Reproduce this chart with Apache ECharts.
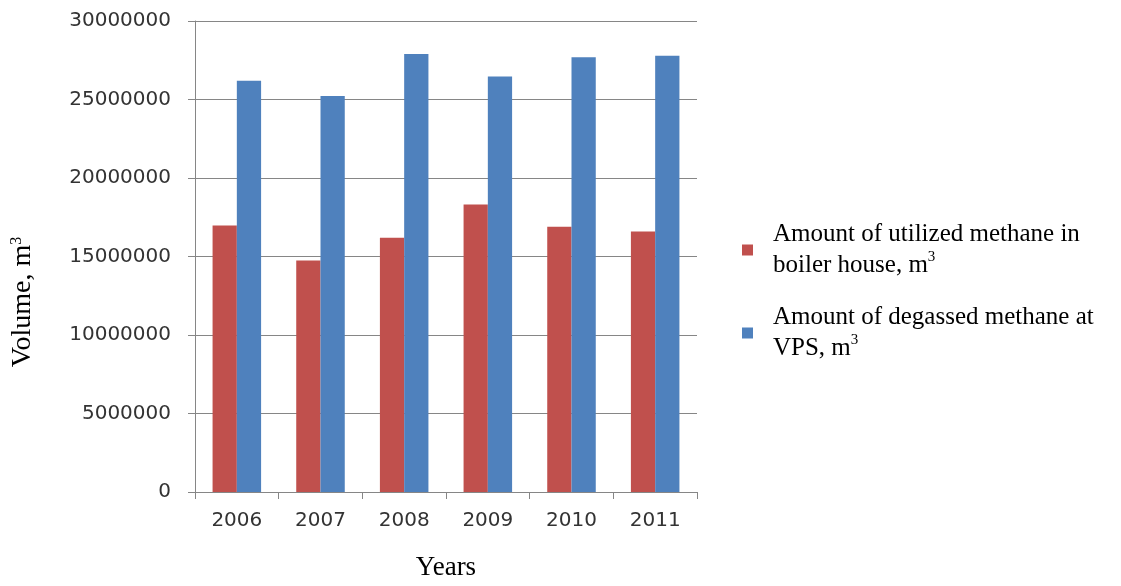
<!DOCTYPE html>
<html>
<head>
<meta charset="utf-8">
<script src="https://cdn.jsdelivr.net/npm/echarts@6/dist/echarts.min.js"></script>
<style>
  html, body { margin: 0; padding: 0; background: #ffffff; }
  #chart { width: 1121px; height: 586px; }
</style>
</head>
<body>
<div id="chart"></div>
<script>
// Methane volumes per year
const years = ['2006', '2007', '2008', '2009', '2010', '2011'];
const utilizedBoiler = [16970000, 14750000, 16190000, 18310000, 16890000, 16590000];
const degassedVPS = [26190000, 25230000, 27900000, 26460000, 27690000, 27780000];
const seriesNames = ['Amount of utilized methane in boiler house, m3', 'Amount of degassed methane at VPS, m3'];
const legendLines = {
  [seriesNames[0]]: ['Amount of utilized methane in', 'boiler house, m'],
  [seriesNames[1]]: ['Amount of degassed methane at', 'VPS, m']
};

const serif = '"Liberation Serif", "Times New Roman", serif';
const sans = '"DejaVu Sans", Verdana, sans-serif';
const axisGray = '#868686';

const chart = echarts.init(document.getElementById('chart'));
chart.setOption({
  animation: false,
  backgroundColor: '#ffffff',
  grid: { left: 195, right: 424, top: 21, bottom: 93, containLabel: false },
  legend: {
    orient: 'vertical',
    left: 737,
    top: 217,
    itemWidth: 11,
    itemHeight: 11,
    itemGap: 27,
    icon: 'rect',
    selectedMode: false,
    data: seriesNames,
    formatter: function (name) {
      const l = legendLines[name];
      return '{t|' + l[0] + '}\n{t|' + l[1] + '}{s|3}';
    },
    textStyle: {
      rich: {
        t: { fontFamily: serif, fontSize: 25, lineHeight: 31, color: '#000000', padding: [0, 0, 0, 15] },
        s: { fontFamily: serif, fontSize: 15, lineHeight: 31, color: '#000000', verticalAlign: 'top' }
      }
    }
  },
  graphic: [
    {
      type: 'text',
      x: 23,
      y: 302,
      rotation: Math.PI / 2,
      style: {
        text: '{a|Volume, m}{s|3}',
        align: 'center',
        verticalAlign: 'middle',
        rich: {
          a: { fontFamily: serif, fontSize: 28, fill: '#000000' },
          s: { fontFamily: serif, fontSize: 16, fill: '#000000', verticalAlign: 'top' }
        }
      }
    }
  ],
  xAxis: {
    type: 'category',
    data: years,
    name: 'Years',
    nameLocation: 'middle',
    nameGap: 62,
    nameTextStyle: { fontFamily: serif, fontSize: 27, color: '#000000' },
    axisLine: { lineStyle: { color: axisGray, width: 1 } },
    axisTick: { show: true, length: 7, lineStyle: { color: axisGray } },
    axisLabel: { fontFamily: sans, fontSize: 20, color: '#333333', margin: 19 }
  },
  yAxis: {
    type: 'value',
    min: 0,
    max: 30000000,
    interval: 5000000,
    axisLine: { show: true, lineStyle: { color: axisGray, width: 1 } },
    axisTick: { show: true, length: 7, lineStyle: { color: axisGray } },
    axisLabel: {
      fontFamily: sans, fontSize: 20, color: '#333333', margin: 24,
      formatter: function (v) { return String(v); }
    },
    splitLine: { show: true, lineStyle: { color: axisGray, width: 1 } }
  },
  series: [
    {
      name: seriesNames[0],
      type: 'bar',
      data: utilizedBoiler,
      barGap: '0%',
      barCategoryGap: '42%',
      itemStyle: { color: '#C0504D' }
    },
    {
      name: seriesNames[1],
      type: 'bar',
      data: degassedVPS,
      itemStyle: { color: '#4F81BD' }
    }
  ]
});
</script>
</body>
</html>
